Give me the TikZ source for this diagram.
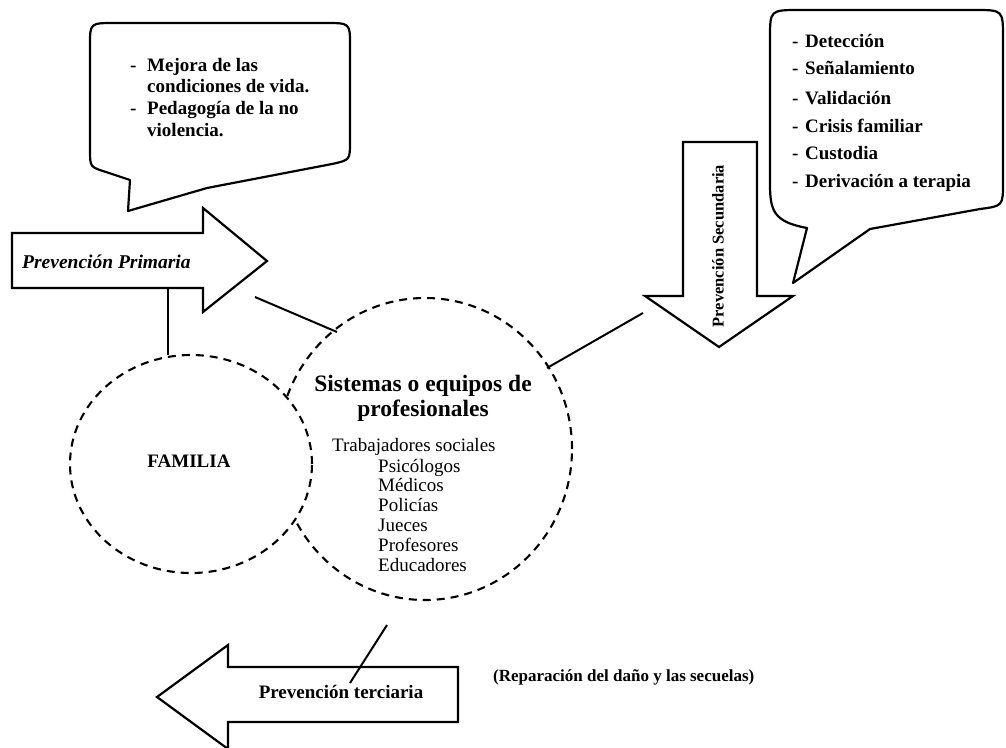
\documentclass[tikz,border=0pt]{standalone}
\usepackage{fontspec}
\setmainfont{Liberation Serif}
\usetikzlibrary{shapes.geometric}
\begin{document}
\begin{tikzpicture}[x=1pt,y=-1pt,
  outline/.style={draw=black,line width=2.2pt,line join=miter,fill=white},
  conn/.style={draw=black,line width=2pt},
  dcirc/.style={draw=black,line width=2.1pt,dash pattern=on 8pt off 6pt,ellipse,inner sep=0pt},
  bt/.style={font=\bfseries\fontsize{19}{21}\selectfont,inner sep=0pt,anchor=west,text height=13pt,text depth=4pt},
  rt/.style={font=\fontsize{19}{20}\selectfont,inner sep=0pt,anchor=west,text height=13pt,text depth=4pt}
]
\useasboundingbox (0,0) rectangle (1006,747);

% callout 1
\draw[outline,line join=round] (115,23) -- (325,23) .. controls (350,23) and (350,23) .. (350,45)
  -- (350,142) .. controls (350,160) and (350,160) .. (332,164) -- (207,188) -- (128,211) -- (130,180)
  -- (106,172) .. controls (90,167) and (90,167) .. (90,150) -- (90,45) .. controls (90,23) and (90,23) .. (115,23) -- cycle;
\node[bt] (d1) at (130,67) {-};
\node[bt] (m1) at (147,67) {Mejora de las};
\node[bt] (m2) at (147,88) {condiciones de vida.};
\node[bt] (d2) at (130,110) {-};
\node[bt] (m3) at (147,110) {Pedagogía de la no};
\node[bt] (m4) at (147,132) {violencia.};

% callout 2
\draw[outline,line join=round] (800,10) -- (975,10) .. controls (1003,10) and (1003,10) .. (1003,38)
  -- (1003,182) .. controls (1003,206) and (1003,206) .. (980,209) -- (870,229) -- (793,283) -- (807,228)
  .. controls (775,222) and (770,212) .. (770,185) -- (770,38) .. controls (770,10) and (770,10) .. (800,10) -- cycle;
\foreach \t/\yy [count=\i] in {Detección/43,Señalamiento/70,Validación/100,Crisis familiar/128,Custodia/155,Derivación a terapia/183}{
  \node[bt] (dd\i) at (792,\yy) {-};
  \node[bt] (s\i) at (805,\yy) {\t};
}

% circles
\node[dcirc,minimum width=294pt,minimum height=302pt] (sys) at (425,449) {};
\node[dcirc,fill=white,minimum width=242pt,minimum height=218pt] (fam) at (191,464) {};
\node[font=\bfseries\fontsize{19}{21}\selectfont,inner sep=0pt] (famt) at (189,461) {FAMILIA};
\node[font=\bfseries\fontsize{23.5}{25}\selectfont,inner sep=0pt,align=center] (syst) at (423,398) {Sistemas o equipos de\\profesionales};
\node[rt] (p0) at (332,447) {Trabajadores sociales};
\foreach \t/\yy [count=\i] in {Psicólogos/468,Médicos/487,Policías/507,Jueces/527,Profesores/547,Educadores/567}{
  \node[rt] (p\i) at (378,\yy) {\t};
}

% primary arrow
\draw[outline] (12,233) -- (203,233) -- (203,208) -- (267,261) -- (203,312) -- (203,288) -- (12,288) -- cycle;
\node[font=\bfseries\itshape\fontsize{19.5}{21}\selectfont,inner sep=0pt,anchor=west] (pp) at (22,262) {Prevención Primaria};

% secondary arrow
\draw[outline] (683,142) -- (757,142) -- (757,296) -- (793,296) -- (719,347) -- (645,296) -- (683,296) -- cycle;
\node[font=\bfseries\fontsize{16.5}{18}\selectfont,inner sep=0pt,rotate=90] (ps) at (718,246) {Prevención Secundaria};

% tertiary arrow
\draw[outline] (458,667) -- (228,667) -- (228,645) -- (157,697) -- (228,749) -- (228,722) -- (458,722) -- cycle;
\node[font=\bfseries\fontsize{19}{21}\selectfont,inner sep=0pt] (pt) at (341,692) {Prevención terciaria};
\node[font=\bfseries\fontsize{17}{19}\selectfont,inner sep=0pt,anchor=west] (rep) at (493,677) {(Reparación del daño y las secuelas)};

% connectors
\coordinate (a1) at (168,288);
\coordinate (b1) at (168,355);
\coordinate (a2) at (255,297);
\coordinate (b2) at (337,332);
\coordinate (a3) at (547,368);
\coordinate (b3) at (643,313);
\coordinate (a4) at (387,625);
\coordinate (b4) at (350,683);
\draw[conn] (a1) -- (b1);
\draw[conn] (a2) -- (b2);
\draw[conn] (a3) -- (b3);
\draw[conn] (a4) -- (b4);
\end{tikzpicture}
\end{document}
